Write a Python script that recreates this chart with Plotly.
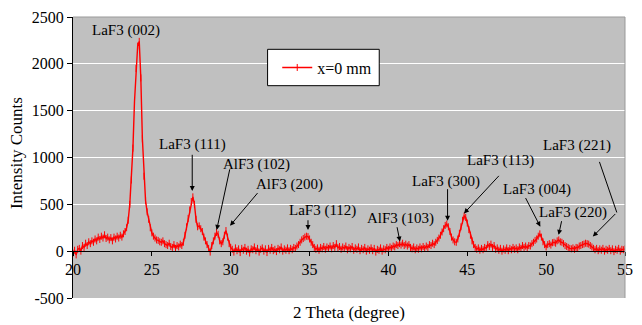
import numpy as np
import plotly.graph_objects as go

# Scan settings: 2-theta from 20 to 55 degrees in 0.1 degree steps
theta_start = 20.0
theta_step = 0.1

# Measured intensity counts, one row per degree (x.0 ... x.9)
intensity = [
    -20, 10, -40, 20, 30, 0, 60, 40, 85, 60,            # 20
    100, 80, 110, 95, 130, 110, 150, 125, 160, 140,     # 21
    175, 135, 150, 120, 145, 110, 150, 130, 160, 140,   # 22
    170, 150, 185, 210, 250, 330, 500, 760, 1100, 1600, # 23
    1950, 2190, 2240, 1850, 1200, 800, 540, 420, 340, 250,  # 24
    195, 160, 140, 120, 115, 100, 95, 110, 80, 70,      # 25
    60, 85, 50, 40, 70, 30, 60, 45, 75, 60,             # 26
    95, 170, 260, 350, 440, 530, 580, 500, 340, 260,    # 27
    270, 240, 210, 150, 110, 70, 30, -10, 60, 110,      # 28
    160, 200, 180, 110, 80, 100, 170, 220, 150, 80,     # 29
    40, 20, -10, 35, 5, 25, -15, 30, 10, 40,            # 30
    0, 20, -20, 25, 15, 45, 5, 30, -10, 20,             # 31
    35, 0, 25, -15, 30, 10, 40, 5, 20, -5,              # 32
    30, 15, 45, 0, 25, 10, 35, 5, 30, 15,               # 33
    40, 30, 55, 70, 95, 120, 135, 150, 160, 155,        # 34
    130, 95, 70, 40, 20, 35, 10, 40, 25, 50,            # 35
    20, 45, 30, 55, 25, 60, 40, 80, 35, 50,             # 36
    20, 45, 30, 55, 15, 40, 25, 50, 10, 35,             # 37
    20, 45, 5, 30, 15, 40, 0, 25, 10, 35,               # 38
    5, 30, -10, 20, 10, 35, 0, 25, 15, 40,              # 39
    20, 45, 30, 55, 45, 70, 60, 80, 65, 85,             # 40
    60, 75, 55, 70, 40, 25, 45, 15, 35, 20,             # 41
    45, 25, 50, 30, 55, 40, 70, 60, 85, 70,             # 42
    95, 115, 140, 170, 205, 240, 275, 290, 260, 210,    # 43
    150, 120, 100, 95, 130, 190, 260, 330, 375, 360,    # 44
    300, 230, 170, 110, 70, 40, 20, 35, 10, 30,         # 45
    15, 40, 30, 70, 50, 75, 40, 60, 20, 35,             # 46
    10, 30, 0, 25, 10, 35, 5, 30, 15, 40,               # 47
    20, 35, 15, 45, 30, 60, 40, 55, 35, 60,             # 48
    55, 80, 95, 115, 130, 160, 185, 150, 100, 70,       # 49
    45, 70, 80, 65, 90, 95, 85, 110, 120, 100,          # 50
    95, 80, 60, 50, 40, 30, 25, 35, 20, 40,             # 51
    35, 55, 60, 70, 75, 85, 80, 75, 60, 45,             # 52
    30, 15, 30, 5, 25, 10, 30, 0, 20, 10,               # 53
    30, 5, 25, -5, 20, 10, 30, 0, 20, 15,               # 54
    25,                                                 # 55
]
two_theta = np.round(theta_start + theta_step * np.arange(len(intensity)), 2)

series_name = "x=0 mm"

# Axis ticks
x_ticks = [20, 25, 30, 35, 40, 45, 50, 55]
y_ticks = [-500, 0, 500, 1000, 1500, 2000, 2500]
y_tick_text = [str(v) for v in y_ticks]  # plain hyphen for negatives

# Peak identification labels: (text, label x, label y) in data units
peak_labels = [
    ("LaF3 (002)", 23.39, 2356),
    ("LaF3 (111)", 27.59, 1141),
    ("AlF3 (102)", 31.62, 926),
    ("AlF3 (200)", 33.70, 714),
    ("LaF3 (112)", 35.84, 438),
    ("AlF3 (103)", 40.76, 354),
    ("LaF3 (300)", 43.65, 749),
    ("LaF3 (113)", 47.09, 968),
    ("LaF3 (004)", 49.44, 661),
    ("LaF3 (220)", 51.69, 413),
    ("LaF3 (221)", 51.93, 1130),
]

# Pointer arrows: (tail x, tail y, head x, head y) in data units
pointer_arrows = [
    (27.56, 1045, 27.56, 643),
    (29.96, 890, 29.11, 227),
    (31.78, 636, 29.96, 272),
    (34.90, 346, 34.90, 227),
    (40.53, 272, 40.73, 103),
    (43.75, 678, 43.75, 325),
    (47.09, 820, 44.79, 403),
    (48.65, 583, 49.63, 262),
    (51.00, 336, 50.79, 174),
    (54.48, 413, 52.96, 156),
]
# Leader segment for the (221) label that bends into the last arrow
leader_segment = (53.38, 953, 54.48, 413)

FONT = "'Times New Roman', 'Liberation Serif', serif"

fig = go.Figure()
fig.add_trace(go.Scatter(
    x=two_theta, y=intensity, name=series_name, mode="lines+markers",
    line=dict(color="#FF0000", width=1.4),
    marker=dict(symbol="line-ns", size=5, color="#FF0000",
                line=dict(color="#FF0000", width=1)),
    showlegend=True,
))

annotations = []
for text, lx, ly in peak_labels:
    annotations.append(dict(x=lx, y=ly, xref="x", yref="y", text=text,
                            showarrow=False, font=dict(size=15, color="black", family=FONT)))
for tx, ty, hx, hy in pointer_arrows:
    annotations.append(dict(x=hx, y=hy, ax=tx, ay=ty, xref="x", yref="y",
                            axref="x", ayref="y", text="", showarrow=True,
                            arrowhead=2, arrowsize=1, arrowwidth=1,
                            arrowcolor="black", standoff=0, startstandoff=0))

# Axis titles
annotations.append(dict(x=0.5, y=-0.052, xref="paper", yref="paper",
                        text="2 Theta (degree)", showarrow=False,
                        font=dict(size=17, color="black", family=FONT),
                        xanchor="center", yanchor="middle"))
annotations.append(dict(x=-0.1023, y=0.514, xref="paper", yref="paper",
                        text="Intensity Counts", showarrow=False, textangle=-90,
                        font=dict(size=17, color="black", family=FONT),
                        xanchor="center", yanchor="middle"))

shapes = [
    # plot-area frame (top and right edges)
    dict(type="line", xref="paper", yref="paper", x0=0, x1=1, y0=1, y1=1,
         line=dict(color="#999999", width=1)),
    dict(type="line", xref="paper", yref="paper", x0=1, x1=1, y0=0, y1=1,
         line=dict(color="#999999", width=1)),
    # leader line for LaF3 (221)
    dict(type="line", xref="x", yref="y",
         x0=leader_segment[0], y0=leader_segment[1],
         x1=leader_segment[2], y1=leader_segment[3],
         line=dict(color="black", width=1)),
    # legend box
    dict(type="rect", xref="paper", yref="paper",
         x0=0.3525, x1=0.5548, y0=0.7556, y1=0.885,
         fillcolor="white", line=dict(color="black", width=1), layer="above"),
]

fig.update_layout(
    width=642, height=325,
    margin=dict(l=73, r=9, t=15, b=27),
    paper_bgcolor="white",
    plot_bgcolor="#C0C0C0",
    font=dict(family=FONT, color="black", size=16),
    showlegend=True,
    legend=dict(x=0.37, y=0.82, xanchor="left", yanchor="middle",
                bgcolor="rgba(0,0,0,0)", borderwidth=0,
                font=dict(size=16, family=FONT, color="black")),
    xaxis=dict(range=[20, 55], tickvals=x_ticks, anchor="free",
               position=500 / 3000, showline=True, linecolor="black",
               linewidth=1, ticks="outside", ticklen=4, tickcolor="black",
               showgrid=False, zeroline=False,
               tickfont=dict(size=16, family=FONT, color="black")),
    yaxis=dict(range=[-500, 2500], tickvals=y_ticks, ticktext=y_tick_text,
               showgrid=True, gridcolor="white", gridwidth=1,
               zeroline=False, showline=True, linecolor="black", linewidth=1,
               ticks="outside", ticklen=5, tickcolor="black",
               tickfont=dict(size=16, family=FONT, color="black")),
    annotations=annotations,
    shapes=shapes,
)

fig.write_html("out.html")
